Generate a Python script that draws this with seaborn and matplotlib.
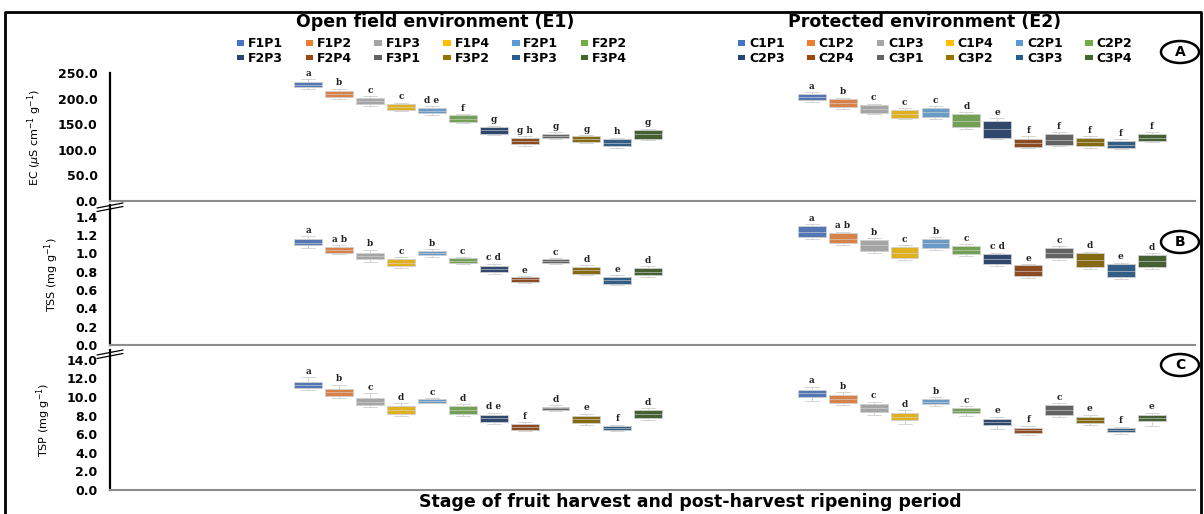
import numpy as np
import pandas as pd
import matplotlib.pyplot as plt
import seaborn as sns
from matplotlib.patches import Patch, Ellipse
from matplotlib.lines import Line2D

# =====================================================
# DATA (lo whisker, q1, median, q3, hi whisker) per treatment
# =====================================================

e1_labels = ["F1P1", "F1P2", "F1P3", "F1P4", "F2P1", "F2P2",
             "F2P3", "F2P4", "F3P1", "F3P2", "F3P3", "F3P4"]
e2_labels = ["C1P1", "C1P2", "C1P3", "C1P4", "C2P1", "C2P2",
             "C2P3", "C2P4", "C3P1", "C3P2", "C3P3", "C3P4"]

colors = ["#4472C4", "#ED7D31", "#A5A5A5", "#FFC000", "#5B9BD5", "#70AD47",
          "#264478", "#9E480E", "#636363", "#997300", "#255E91", "#43682B"]

ec_e1 = [[218, 222, 227, 233, 238], [199, 204, 209, 215, 219],
         [186, 189, 195, 201, 205], [175, 178, 183, 189, 192],
         [168, 171, 176, 182, 185], [153, 155, 161, 167, 169],
         [129, 131, 138, 145, 147], [108, 111, 117, 124, 127],
         [122, 124, 127, 131, 134], [114, 116, 121, 126, 128],
         [104, 107, 114, 122, 124], [120, 122, 130, 138, 141]]
ec_e2 = [[194, 197, 203, 209, 212], [180, 183, 191, 199, 202],
         [169, 172, 179, 187, 190], [160, 163, 170, 178, 181],
         [161, 165, 173, 181, 185], [141, 144, 156, 169, 174],
         [121, 124, 140, 156, 162], [103, 105, 113, 122, 126],
         [108, 110, 120, 131, 134], [104, 107, 115, 124, 127],
         [101, 103, 110, 117, 121], [115, 117, 124, 131, 134]]

tss_e1 = [[1.06, 1.09, 1.12, 1.16, 1.19], [0.99, 1.01, 1.04, 1.07, 1.09],
          [0.91, 0.94, 0.97, 1.01, 1.04], [0.84, 0.86, 0.90, 0.94, 0.96],
          [0.96, 0.98, 1.00, 1.03, 1.05], [0.89, 0.90, 0.92, 0.95, 0.96],
          [0.78, 0.80, 0.83, 0.86, 0.89], [0.68, 0.69, 0.72, 0.74, 0.75],
          [0.89, 0.90, 0.92, 0.94, 0.95], [0.76, 0.78, 0.82, 0.85, 0.87],
          [0.66, 0.67, 0.71, 0.74, 0.76], [0.74, 0.76, 0.80, 0.84, 0.86]]
tss_e2 = [[1.16, 1.18, 1.24, 1.30, 1.32], [1.09, 1.11, 1.16, 1.22, 1.24],
          [1.01, 1.03, 1.09, 1.15, 1.17], [0.93, 0.95, 1.01, 1.07, 1.09],
          [1.04, 1.06, 1.11, 1.16, 1.18], [0.97, 0.99, 1.04, 1.08, 1.10],
          [0.86, 0.88, 0.94, 0.99, 1.01], [0.73, 0.75, 0.81, 0.87, 0.88],
          [0.93, 0.95, 1.01, 1.06, 1.08], [0.83, 0.85, 0.93, 1.00, 1.02],
          [0.72, 0.74, 0.81, 0.88, 0.90], [0.83, 0.85, 0.92, 0.98, 1.00]]

tsp_e1 = [[10.8, 11.0, 11.3, 11.6, 12.1], [9.9, 10.1, 10.5, 10.9, 11.3],
          [8.9, 9.1, 9.5, 9.9, 10.4], [8.0, 8.2, 8.6, 9.0, 9.3],
          [9.3, 9.4, 9.6, 9.75, 9.9], [8.0, 8.2, 8.6, 9.0, 9.2],
          [7.1, 7.3, 7.7, 8.1, 8.3], [6.3, 6.45, 6.8, 7.1, 7.3],
          [8.5, 8.6, 8.8, 8.95, 9.1], [7.0, 7.2, 7.6, 8.0, 8.2],
          [6.3, 6.45, 6.7, 6.9, 7.0], [7.5, 7.7, 8.2, 8.6, 8.8]]
tsp_e2 = [[9.6, 10.0, 10.4, 10.8, 11.1], [9.1, 9.35, 9.8, 10.2, 10.5],
          [8.1, 8.4, 8.8, 9.2, 9.5], [7.1, 7.5, 7.9, 8.3, 8.6],
          [9.0, 9.2, 9.5, 9.8, 10.0], [8.0, 8.25, 8.5, 8.8, 9.0],
          [6.6, 6.95, 7.3, 7.6, 7.9], [5.9, 6.1, 6.4, 6.7, 6.9],
          [7.9, 8.1, 8.6, 9.1, 9.3], [7.0, 7.25, 7.55, 7.85, 8.1],
          [6.0, 6.2, 6.45, 6.65, 6.8], [6.9, 7.4, 7.75, 8.1, 8.3]]

ec_e1_let = ["a", "b", "c", "c", "d e", "f", "g", "g h", "g", "g", "h", "g"]
ec_e2_let = ["a", "b", "c", "c", "c", "d", "e", "f", "f", "f", "f", "f"]
tss_e1_let = ["a", "a b", "b", "c", "b", "c", "c d", "e", "c", "d", "e", "d"]
tss_e2_let = ["a", "a b", "b", "c", "b", "c", "c d", "e", "c", "d", "e", "d"]
tsp_e1_let = ["a", "b", "c", "d", "c", "d", "d e", "f", "d", "e", "f", "d"]
tsp_e2_let = ["a", "b", "c", "d", "b", "c", "e", "f", "c", "e", "f", "e"]

# =====================================================
# FIGURE
# =====================================================

sns.set_theme(style="white")
plt.rcParams["font.family"] = ["DejaVu Sans"]
plt.rcParams["text.color"] = "black"
plt.rcParams["axes.labelcolor"] = "black"
plt.rcParams["ytick.color"] = "black"

W, H = 1204, 514
fig = plt.figure(figsize=(W / 100, H / 100), dpi=100)

e1_pos = np.arange(12)
e2_pos = np.arange(12) + 16.3
palette = {str(i): c for i, c in enumerate(colors)}


def px(x0, y0, x1, y1):
    # figure-fraction rectangle from pixel coords (top-left origin)
    return [x0 / W, 1 - y1 / H, (x1 - x0) / W, (y1 - y0) / H]


panels = [
    dict(e1=ec_e1, e2=ec_e2, l1=ec_e1_let, l2=ec_e2_let, box=px(110, 73, 1195, 201),
         ylim=250, ticks=np.arange(0, 251, 50), ylab=r"EC ($\mu$S cm$^{-1}$ g$^{-1}$)",
         tag="A", tag_y=52),
    dict(e1=tss_e1, e2=tss_e2, l1=tss_e1_let, l2=tss_e2_let, box=px(110, 205, 1195, 345),
         ylim=1.53, ticks=np.arange(0, 1.41, 0.2), ylab=r"TSS (mg g$^{-1}$)",
         tag="B", tag_y=242),
    dict(e1=tsp_e1, e2=tsp_e2, l1=tsp_e1_let, l2=tsp_e2_let, box=px(110, 350, 1195, 490),
         ylim=15.05, ticks=np.arange(0, 14.1, 2), ylab=r"TSP (mg g$^{-1}$)",
         tag="C", tag_y=365),
]

for p in panels:
    ax = fig.add_axes(p["box"])
    rows = []
    for pos, stats in ((e1_pos, p["e1"]), (e2_pos, p["e2"])):
        for i, s in enumerate(stats):
            for v in s:
                rows.append({"pos": pos[i], "val": v, "ci": str(i)})
    df = pd.DataFrame(rows)

    sns.boxplot(data=df, x="pos", y="val", hue="ci", palette=palette,
                native_scale=True, dodge=False, whis=np.inf, width=0.9,
                linewidth=0.6, linecolor="#cfcfcf", legend=False, ax=ax,
                medianprops={"color": "#d8d8d8", "linewidth": 0.4})

    for pos, stats, lets in ((e1_pos, p["e1"], p["l1"]), (e2_pos, p["e2"], p["l2"])):
        for i, s in enumerate(stats):
            ax.annotate(lets[i], (pos[i], s[4]), xytext=(0, 1), textcoords="offset points",
                        ha="center", va="bottom", fontsize=6.5, fontweight="bold",
                        family="DejaVu Serif", color="#222222")

    ax.set_xlim(-6.42, 28.7)
    ax.set_ylim(0, p["ylim"])
    ax.set_yticks(p["ticks"])
    ax.set_yticklabels([f"{t:.1f}" for t in p["ticks"]], fontweight="bold", fontsize=9)
    ax.set_xticks([])
    ax.set_xlabel("")
    ax.set_ylabel(p["ylab"], fontsize=8, labelpad=10)
    ax.tick_params(axis="y", length=0, pad=9)
    ax.patch.set_alpha(0)
    for side in ["top", "right"]:
        ax.spines[side].set_visible(False)
    ax.spines["left"].set_color("black")
    ax.spines["left"].set_linewidth(1.6)
    ax.spines["bottom"].set_color("#8c8c8c")
    ax.spines["bottom"].set_linewidth(1.5)

    # panel tag
    fig.add_artist(Ellipse((1180 / W, 1 - p["tag_y"] / H), 38 / W, 22 / H,
                           transform=fig.transFigure, fill=False, lw=1.8, ec="black"))
    fig.text(1180 / W, 1 - p["tag_y"] / H, p["tag"], ha="center", va="center",
             fontsize=10, fontweight="bold")

# axis break marks
for yb in (204, 351):
    for dy in (0, 3.5):
        fig.add_artist(Line2D([97 / W, 123 / W], [1 - (yb + 4 + dy) / H, 1 - (yb - 1 + dy) / H],
                              transform=fig.transFigure, color="black", lw=0.9))

# titles
fig.text(435 / W, 1 - 22 / H, "Open field environment (E1)", ha="center", va="center",
         fontsize=12.5, fontweight="bold")
fig.text(925 / W, 1 - 22 / H, "Protected environment (E2)", ha="center", va="center",
         fontsize=12.5, fontweight="bold")
fig.text(690 / W, 1 - 502 / H, "Stage of fruit harvest and post-harvest ripening period",
         ha="center", va="center", fontsize=12.5, fontweight="bold")

# legends (row-wise order: 6 per row)
order = [0, 6, 1, 7, 2, 8, 3, 9, 4, 10, 5, 11]
for labels, cx in ((e1_labels, 432), (e2_labels, 935)):
    handles = [Patch(facecolor=colors[k], edgecolor="none", label=labels[k]) for k in order]
    fig.legend(handles=handles, loc="center", bbox_to_anchor=(cx / W, 1 - 51 / H),
               ncol=6, frameon=False, handlelength=0.6, handleheight=0.35,
               handletextpad=0.3, columnspacing=1.8, labelspacing=0.15,
               prop={"weight": "bold", "size": 9})

# outer frame
fig.add_artist(Line2D([5 / W, 5 / W, 1201 / W, 1201 / W], [0, 1 - 12 / H, 1 - 12 / H, 0],
                      transform=fig.transFigure, color="black", lw=2))

fig.savefig("out.png", dpi=100)
